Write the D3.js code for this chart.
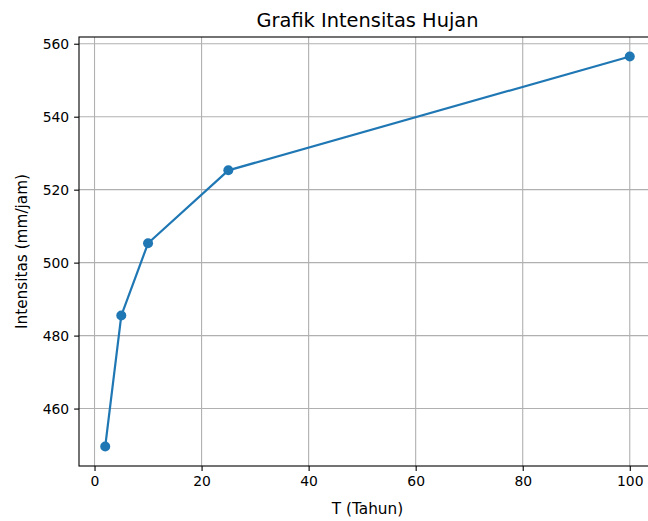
<!DOCTYPE html>
<html><head><meta charset="utf-8">
<script src="https://cdn.jsdelivr.net/npm/d3@7"></script>
<style>body{margin:0;background:#fff}svg{display:block;font-family:"DejaVu Sans",sans-serif}</style>
</head><body>
<script>
const periods = [2, 5, 10, 25, 100];
const intensities = [449.6, 485.5, 505.3, 525.3, 556.5];
const xTicks = [0, 20, 40, 60, 80, 100];
const yTicks = [460, 480, 500, 520, 540, 560];
const title = "Grafik Intensitas Hujan";
const xLabel = "T (Tahun)";
const yLabel = "Intensitas (mm/jam)";

(function () {
const W = 648, H = 521;
const pL = 79, pR = 656, pT = 37, pB = 466;
const svg = d3.select("body").append("svg").attr("width", W).attr("height", H);

const xMin = d3.min(periods), xMax = d3.max(periods);
const yMin = d3.min(intensities), yMax = d3.max(intensities);
const xm = (xMax - xMin) * 0.05, ym = (yMax - yMin) * 0.05;
const x = d3.scaleLinear().domain([xMin - xm, xMax + xm]).range([pL, pR]);
const y = d3.scaleLinear().domain([yMin - ym, yMax + ym]).range([pB, pT]);

const g = svg.append("g");
g.selectAll(".gx").data(xTicks).join("line")
  .attr("x1", d => x(d)).attr("x2", d => x(d)).attr("y1", pT).attr("y2", pB)
  .attr("stroke", "#b0b0b0").attr("stroke-width", 1.1);
g.selectAll(".gy").data(yTicks).join("line")
  .attr("y1", d => y(d)).attr("y2", d => y(d)).attr("x1", pL).attr("x2", pR)
  .attr("stroke", "#b0b0b0").attr("stroke-width", 1.1);

const line = d3.line().x((d, i) => x(periods[i])).y(d => y(d));
g.append("path").datum(intensities).attr("d", line)
  .attr("fill", "none").attr("stroke", "#1f77b4").attr("stroke-width", 2.2)
  .attr("stroke-linejoin", "round").attr("stroke-linecap", "square");
g.selectAll(".pt").data(intensities).join("circle")
  .attr("cx", (d, i) => x(periods[i])).attr("cy", d => y(d)).attr("r", 5)
  .attr("fill", "#1f77b4");

svg.append("rect").attr("x", pL).attr("y", pT).attr("width", pR - pL).attr("height", pB - pT)
  .attr("fill", "none").attr("stroke", "#000").attr("stroke-width", 1.1);

const xa = svg.append("g").attr("transform", `translate(0,${pB})`)
  .call(d3.axisBottom(x).tickValues(xTicks).tickSize(4.9).tickPadding(4.9).tickFormat(d3.format("d")));
const ya = svg.append("g").attr("transform", `translate(${pL},0)`)
  .call(d3.axisLeft(y).tickValues(yTicks).tickSize(4.9).tickPadding(4.9).tickFormat(d3.format("d")));
[xa, ya].forEach(a => {
  a.select(".domain").remove();
  a.selectAll(".tick line").attr("stroke", "#000").attr("stroke-width", 1.1);
  a.selectAll(".tick text").attr("fill", "#000").style("font-size", "13.9px").style("font-family", "DejaVu Sans");
});

svg.append("text").attr("x", (pL + pR) / 2).attr("y", 26.5).attr("text-anchor", "middle")
  .style("font-size", "19.4px").attr("fill", "#000").text(title);
svg.append("text").attr("x", (pL + pR) / 2).attr("y", 513.5).attr("text-anchor", "middle")
  .style("font-size", "15.3px").attr("fill", "#000").text(xLabel);
svg.append("text").attr("transform", `translate(26.5,${(pT + pB) / 2}) rotate(-90)`).attr("text-anchor", "middle")
  .style("font-size", "15.3px").attr("fill", "#000").text(yLabel);
})();
</script>
</body></html>
